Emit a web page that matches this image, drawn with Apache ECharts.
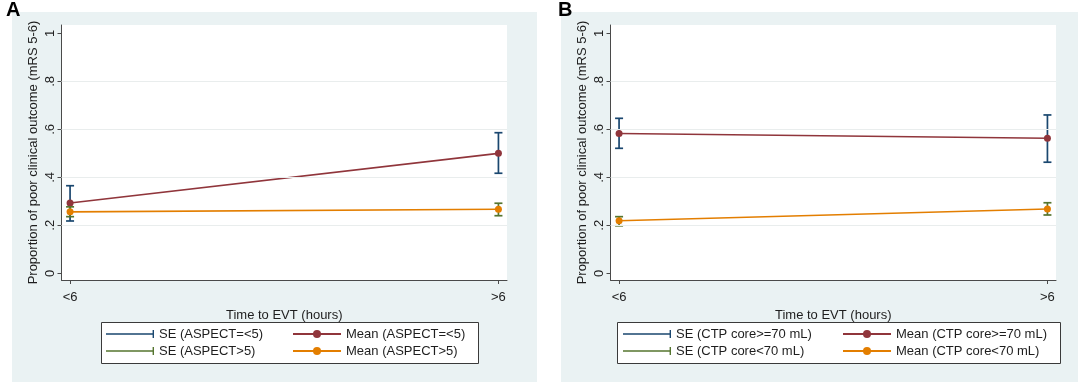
<!DOCTYPE html>
<html>
<head>
<meta charset="utf-8">
<script src="https://cdn.jsdelivr.net/npm/echarts@6/dist/echarts.min.js"></script>
<style>
html,body{margin:0;padding:0;background:#fff;}
#chart{width:1080px;height:392px;}
</style>
</head>
<body>
<div id="chart"></div>
<script>
// ---- data ----
const xPositions = [0, 1];
const xLabels = ['<6', '>6'];
const yTicks = [0, 0.2, 0.4, 0.6, 0.8, 1];
const yTickLabels = ['0', '.2', '.4', '.6', '.8', '1'];
const gridValues = [0.2, 0.4, 0.6, 0.8];
const yTitle = 'Proportion of poor clinical outcome (mRS 5-6)';
const xTitle = 'Time to EVT (hours)';
const panelLetters = ['A', 'B'];

// Panel A
const namesA = ['SE (ASPECT=<5)', 'Mean (ASPECT=<5)', 'SE (ASPECT>5)', 'Mean (ASPECT>5)'];
const seA1Low = [0.218, 0.417];
const seA1High = [0.365, 0.586];
const meanA1 = [0.293, 0.500];
const seA2Low = [0.236, 0.240];
const seA2High = [0.277, 0.292];
const meanA2 = [0.256, 0.267];

// Panel B
const namesB = ['SE (CTP core>=70 mL)', 'Mean (CTP core>=70 mL)', 'SE (CTP core<70 mL)', 'Mean (CTP core<70 mL)'];
const seB1Low = [0.521, 0.463];
const seB1High = [0.646, 0.660];
const meanB1 = [0.583, 0.563];
const seB2Low = [0.198, 0.243];
const seB2High = [0.236, 0.294];
const meanB2 = [0.219, 0.268];

// ---- styling ----
const FONT = '"Liberation Sans", Arial, sans-serif';
const C_NAVY = '#1a476f', C_MAROON = '#90353b', C_GREEN = '#55752f', C_ORANGE = '#e37e00';
const BG = '#eaf2f3';
const TXT = '#1e1e1e';
const AX = '#4a4a4a';

const chart = echarts.init(document.getElementById('chart'), null, {renderer: 'canvas'});

function seRender(params, api) {
  const x = api.value(0), lo = api.value(1), hi = api.value(2);
  const p1 = api.coord([x, lo]), p2 = api.coord([x, hi]);
  const c = api.visual('color');
  const w = 4;
  const st = {stroke: c, lineWidth: 1.7};
  return {type: 'group', children: [
    {type: 'line', shape: {x1: p1[0], y1: p1[1], x2: p2[0], y2: p2[1]}, style: st},
    {type: 'line', shape: {x1: p1[0] - w, y1: p1[1], x2: p1[0] + w, y2: p1[1]}, style: st},
    {type: 'line', shape: {x1: p2[0] - w, y1: p2[1], x2: p2[0] + w, y2: p2[1]}, style: st}
  ]};
}
function seData(lo, hi) { return xPositions.map((x, i) => [x, lo[i], hi[i]]); }
function meanData(v) { return xPositions.map((x, i) => [x, v[i]]); }

const grids = [
  {left: 61.5, top: 25, width: 445.5, height: 255},
  {left: 610.5, top: 25, width: 445.5, height: 255}
];

function mkX(i) {
  return {
    type: 'value', gridIndex: i, min: -0.02, max: 1.02,
    name: xTitle, nameLocation: 'middle', nameGap: 19,
    nameTextStyle: {fontFamily: FONT, fontSize: 13, color: TXT},
    axisLine: {show: true, onZero: false, lineStyle: {color: AX, width: 1}},
    axisTick: {show: true, length: 4, customValues: xPositions, lineStyle: {color: AX}},
    axisLabel: {show: true, customValues: xPositions, margin: 11, fontFamily: FONT, fontSize: 13, color: TXT,
      formatter: v => xLabels[xPositions.indexOf(Math.round(v))] || ''},
    splitLine: {show: false}
  };
}
function mkY(i) {
  return {
    type: 'value', gridIndex: i, min: -0.028, max: 1.035,
    name: yTitle, nameLocation: 'middle', nameGap: 22, nameRotate: 90,
    nameTextStyle: {fontFamily: FONT, fontSize: 13, color: TXT},
    axisLine: {show: true, onZero: false, lineStyle: {color: AX, width: 1}},
    axisTick: {show: true, length: 4, customValues: yTicks, lineStyle: {color: AX}},
    axisLabel: {show: true, customValues: yTicks, rotate: 90, margin: 5, fontFamily: FONT, fontSize: 13, color: TXT,
      formatter: v => { const k = yTicks.findIndex(t => Math.abs(t - v) < 1e-6); return k >= 0 ? yTickLabels[k] : ''; }},
    splitLine: {show: false}
  };
}

function gridMark() {
  return {
    silent: true, symbol: 'none', label: {show: false},
    lineStyle: {color: '#e9eded', width: 1, type: 'solid'},
    data: gridValues.map(v => ({yAxis: v}))
  };
}

function panelSeries(i, names, se1l, se1h, m1, se2l, se2h, m2) {
  return [
    {name: names[0], type: 'custom', xAxisIndex: i, yAxisIndex: i, renderItem: seRender,
      itemStyle: {color: C_NAVY}, encode: {x: 0, y: [1, 2]}, data: seData(se1l, se1h), markLine: gridMark(), z: 2},
    {name: names[1], type: 'line', xAxisIndex: i, yAxisIndex: i, data: meanData(m1),
      symbol: 'circle', symbolSize: 7, itemStyle: {color: C_MAROON}, lineStyle: {color: C_MAROON, width: 1.6}, z: 3},
    {name: names[2], type: 'custom', xAxisIndex: i, yAxisIndex: i, renderItem: seRender,
      itemStyle: {color: C_GREEN}, encode: {x: 0, y: [1, 2]}, data: seData(se2l, se2h), z: 4},
    {name: names[3], type: 'line', xAxisIndex: i, yAxisIndex: i, data: meanData(m2),
      symbol: 'circle', symbolSize: 7, itemStyle: {color: C_ORANGE}, lineStyle: {color: C_ORANGE, width: 1.6}, z: 5}
  ];
}

const SE_ICON = 'path://M0,4.3H46.6V1H48V9H46.6V5.7H0Z';
function mkLegend(left, items) {
  return {
    orient: 'vertical', left: left, top: 326.5, padding: 0, itemGap: 2,
    itemWidth: 48, itemHeight: 10, selectedMode: false,
    textStyle: {fontFamily: FONT, fontSize: 13, color: TXT, lineHeight: 15},
    data: items
  };
}

const option = {
  backgroundColor: '#ffffff',
  animation: false,
  graphic: [
    {type: 'rect', z: -10, shape: {x: 12, y: 12, width: 525, height: 370}, style: {fill: BG}},
    {type: 'rect', z: -10, shape: {x: 561, y: 12, width: 517, height: 370}, style: {fill: BG}},
    {type: 'rect', z: 1, shape: {x: 101.5, y: 322.5, width: 377, height: 41}, style: {fill: '#fff', stroke: '#3a3a3a', lineWidth: 1}},
    {type: 'rect', z: 1, shape: {x: 617.5, y: 322.5, width: 443, height: 41}, style: {fill: '#fff', stroke: '#3a3a3a', lineWidth: 1}},
    {type: 'text', z: 10, x: 6, y: 10.5, style: {text: panelLetters[0], font: 'bold 20px ' + FONT, fill: '#000', textVerticalAlign: 'middle'}},
    {type: 'text', z: 10, x: 558, y: 10.5, style: {text: panelLetters[1], font: 'bold 20px ' + FONT, fill: '#000', textVerticalAlign: 'middle'}}
  ],
  grid: grids.map(g => Object.assign({show: true, backgroundColor: '#ffffff', borderWidth: 0}, g)),
  xAxis: [mkX(0), mkX(1)],
  yAxis: [mkY(0), mkY(1)],
  legend: [
    mkLegend(106, [{name: namesA[0], icon: SE_ICON}, {name: namesA[2], icon: SE_ICON}]),
    mkLegend(292, [{name: namesA[1]}, {name: namesA[3]}]),
    mkLegend(623, [{name: namesB[0], icon: SE_ICON}, {name: namesB[2], icon: SE_ICON}]),
    mkLegend(842, [{name: namesB[1]}, {name: namesB[3]}])
  ],
  series: [].concat(
    panelSeries(0, namesA, seA1Low, seA1High, meanA1, seA2Low, seA2High, meanA2),
    panelSeries(1, namesB, seB1Low, seB1High, meanB1, seB2Low, seB2High, meanB2)
  )
};
chart.setOption(option);
</script>
</body>
</html>
